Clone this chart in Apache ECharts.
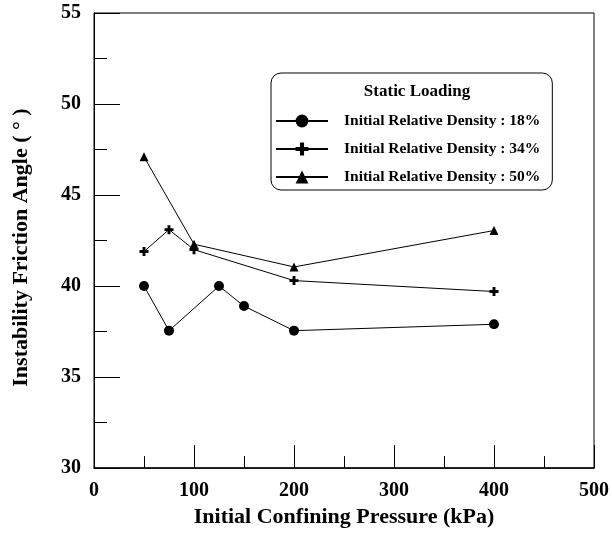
<!DOCTYPE html>
<html>
<head>
<meta charset="utf-8">
<script src="https://cdn.jsdelivr.net/npm/echarts@6/dist/echarts.min.js"></script>
<style>
html,body{margin:0;padding:0;background:#fff;}
#c{width:612px;height:533px;}
</style>
</head>
<body>
<div id="c"></div>
<script>
const xTitle = 'Initial Confining Pressure (kPa)';
const yTitle = 'Instability Friction Angle ( \u00b0 )';
const legendTitle = 'Static Loading';
const seriesNames = ['Initial Relative Density : 18%', 'Initial Relative Density : 34%', 'Initial Relative Density : 50%'];

const x18 = [50, 75, 125, 150, 200, 400];
const y18 = [40.0, 37.55, 40.0, 38.9, 37.55, 37.9];
const x34 = [50, 75, 100, 200, 400];
const y34 = [41.9, 43.1, 42.0, 40.3, 39.7];
const x50 = [50, 100, 200, 400];
const y50 = [47.1, 42.3, 41.05, 43.05];

const plus = 'path://M3.4,0H6.6V3.4H10V6.6H6.6V10H3.4V6.6H0V3.4H3.4Z';
const zip = (xs, ys) => xs.map((v, i) => [v, ys[i]]);
const font = 'Liberation Serif';

const chart = echarts.init(document.getElementById('c'));
const lineStyle = {color: '#000', width: 1};
chart.setOption({
  animation: false,
  backgroundColor: '#fff',
  grid: {left: 94, right: 17, top: 13, bottom: 60, show: true, borderColor: '#000', borderWidth: 1},
  title: {
    text: legendTitle, left: 412, top: 78, textAlign: 'center',
    textStyle: {fontFamily: font, fontWeight: 'bold', fontSize: 17, color: '#000'}
  },
  legend: {
    left: 271, top: 73, orient: 'vertical',
    padding: [40, 12, 5, 4],
    itemWidth: 52, itemHeight: 16, itemGap: 12,
    borderColor: '#000', borderWidth: 1, borderRadius: 10,
    textStyle: {fontFamily: font, fontWeight: 'bold', fontSize: 15.5, color: '#000', padding: [0, 0, 0, 11]},
    data: seriesNames
  },
  xAxis: {
    type: 'value', min: 0, max: 500, interval: 100,
    name: xTitle, nameLocation: 'middle', nameGap: 32,
    nameTextStyle: {fontFamily: font, fontWeight: 'bold', fontSize: 22, color: '#000'},
    axisLine: {lineStyle: {color: '#000', width: 1.5}},
    axisTick: {inside: true, length: 23, lineStyle: {color: '#000'}},
    minorTick: {show: true, splitNumber: 2, length: 12, lineStyle: {color: '#000'}},
    axisLabel: {fontFamily: font, fontWeight: 'bold', fontSize: 20, color: '#000', margin: 13},
    splitLine: {show: false}
  },
  yAxis: {
    type: 'value', min: 30, max: 55, interval: 5,
    name: yTitle, nameLocation: 'middle', nameGap: 62,
    nameTextStyle: {fontFamily: font, fontWeight: 'bold', fontSize: 22, color: '#000', padding: [0, 14, 0, 0]},
    axisLine: {show: true, lineStyle: {color: '#000', width: 1}},
    axisTick: {show: true, inside: true, length: 26, lineStyle: {color: '#000'}},
    minorTick: {show: true, splitNumber: 2, length: 13, lineStyle: {color: '#000'}},
    axisLabel: {fontFamily: font, fontWeight: 'bold', fontSize: 20, color: '#000', margin: 13},
    splitLine: {show: false}
  },
  series: [
    {name: seriesNames[0], type: 'line', data: zip(x18, y18), symbol: 'circle', symbolSize: 10,
     itemStyle: {color: '#000'}, lineStyle: lineStyle},
    {name: seriesNames[1], type: 'line', data: zip(x34, y34), symbol: plus, symbolSize: 9,
     itemStyle: {color: '#000'}, lineStyle: lineStyle},
    {name: seriesNames[2], type: 'line', data: zip(x50, y50), symbol: 'triangle', symbolSize: 9,
     itemStyle: {color: '#000'}, lineStyle: lineStyle}
  ]
});
</script>
</body>
</html>
